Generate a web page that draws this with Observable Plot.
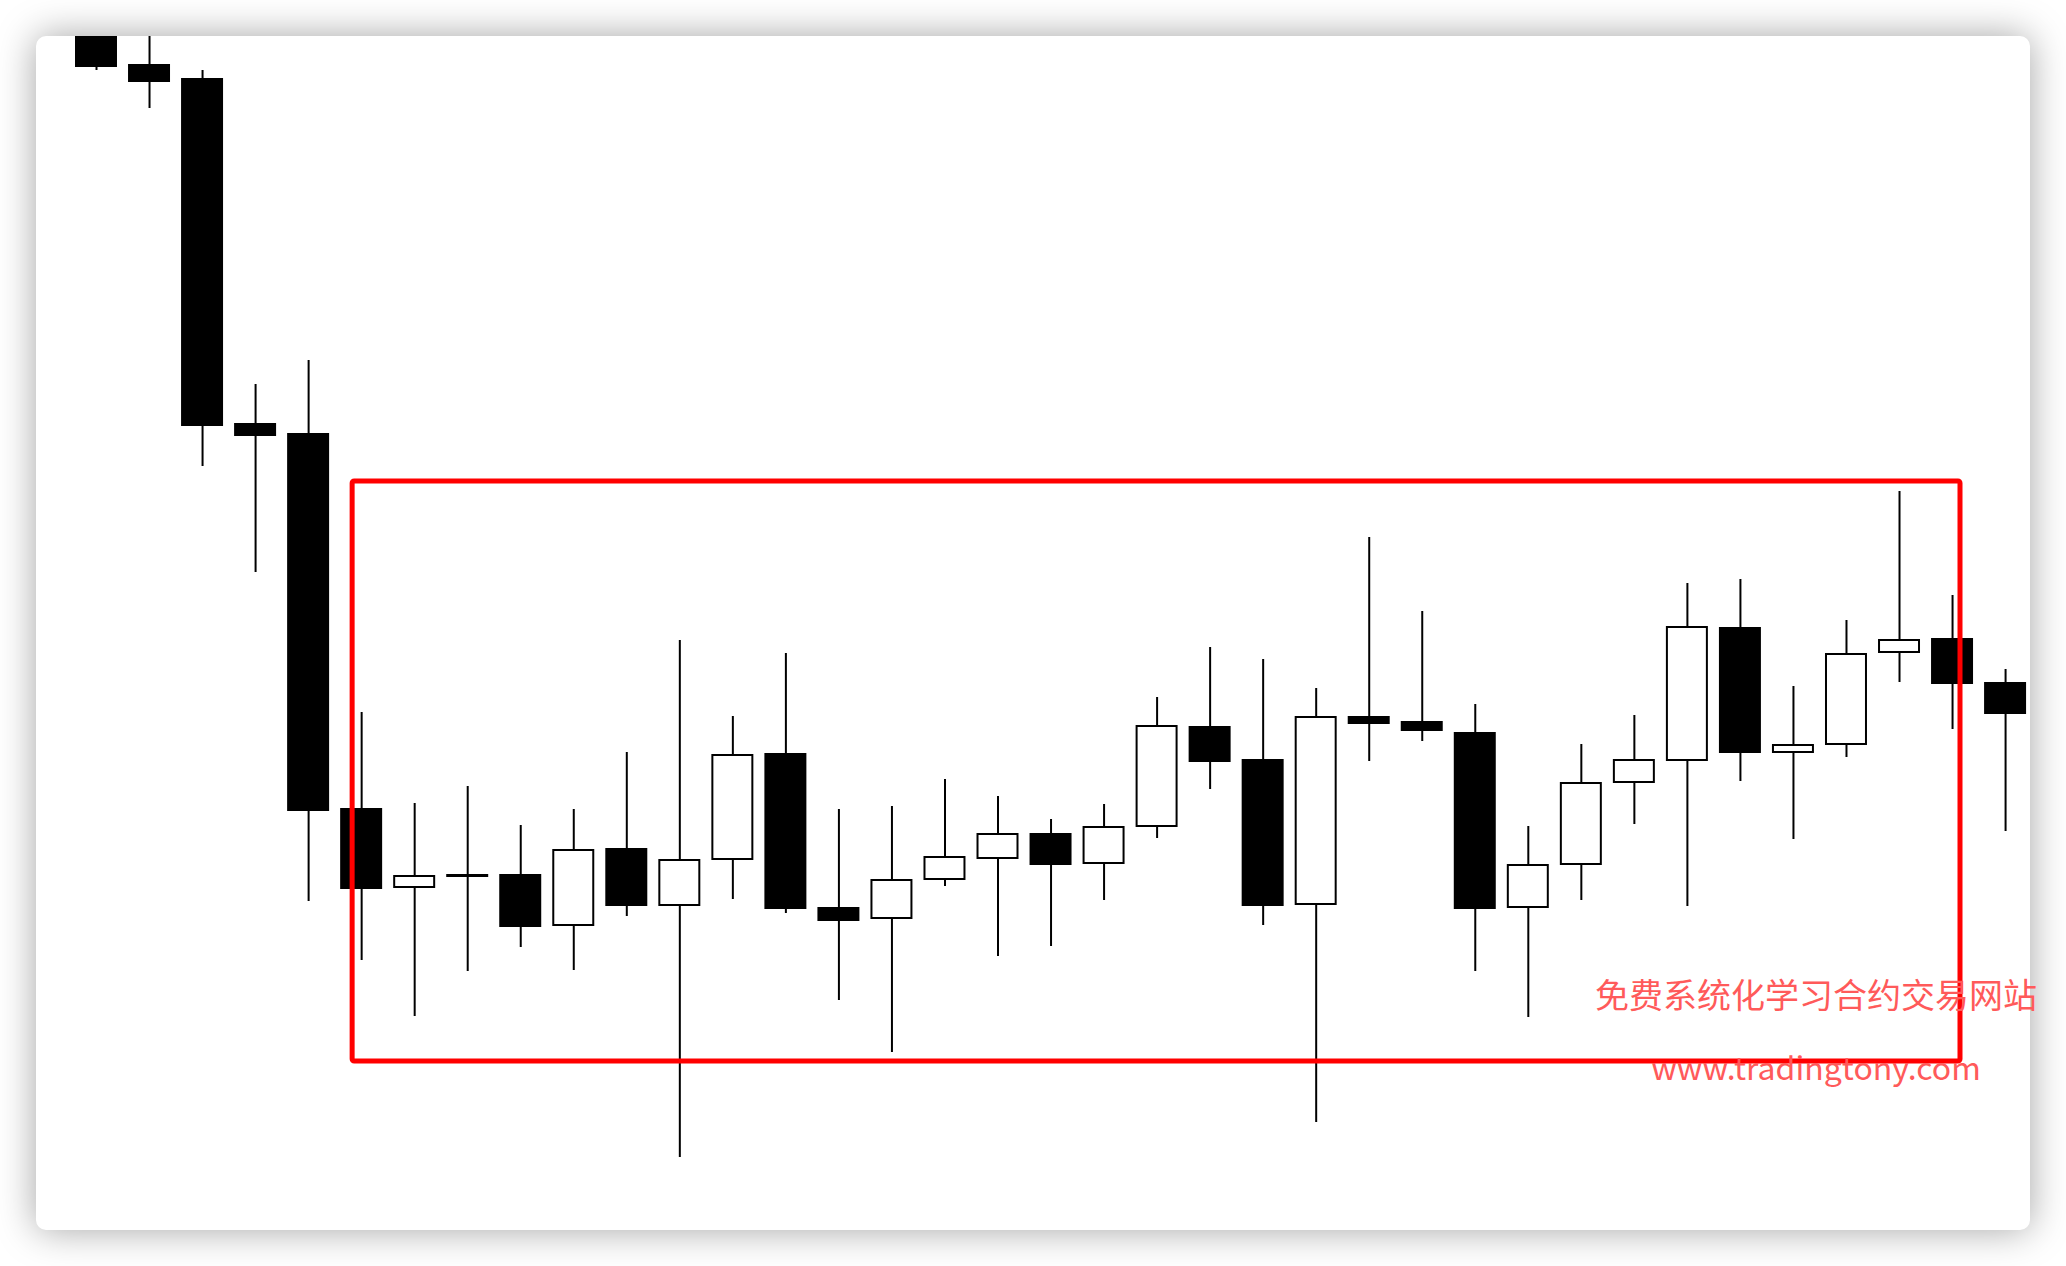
<!DOCTYPE html>
<html>
<head>
<meta charset="utf-8">
<script src="https://cdn.jsdelivr.net/npm/d3@7"></script>
<script src="https://cdn.jsdelivr.net/npm/@observablehq/plot@0.6"></script>
<style>
  html, body { margin: 0; padding: 0; background: #ffffff; }
  body { width: 2066px; height: 1266px; position: relative; overflow: hidden; }
  #card {
    position: absolute; left: 36px; top: 36px; width: 1994px; height: 1194px;
    background: #ffffff; border-radius: 10px;
    box-shadow: 0 0 38px rgba(0,0,0,0.36);
  }
  #chart { position: absolute; left: 0; top: 0; }
  .wm {
    position: absolute; left: 1816px; transform: translateX(-50%);
    white-space: nowrap; font-family: "Noto Sans CJK SC", "Noto Sans", sans-serif;
    font-size: 34px; line-height: 34px; color: #ff5a5a;
  }
</style>
</head>
<body>
<div id="card"></div>
<div id="chart"></div>
<div class="wm" style="top:977px">免费系统化学习合约交易网站</div>
<div class="wm" style="top:1050px; font-size:32px; line-height:32px;">www.tradingtony.com</div>
<script>
// Candle data (price units), in order of bars
const opens  = [1246, 1201, 1187, 842, 832, 457, 379, 391, 391, 341, 417, 361, 407, 512, 358, 348, 387, 408, 432, 403, 440, 539, 506, 362, 549, 544, 533, 359, 402, 484, 506, 638, 514, 522, 614, 627, 583];
const highs  = [1254, 1241, 1196, 882, 906, 554, 463, 480, 441, 457, 514, 626, 550, 613, 457, 460, 487, 470, 447, 462, 569, 619, 607, 578, 729, 655, 562, 440, 522, 551, 683, 687, 580, 646, 775, 671, 597];
const lows   = [1196, 1158, 800, 694, 365, 306, 250, 295, 319, 296, 350, 109, 367, 353, 266, 214, 380, 310, 320, 366, 428, 477, 341, 144, 505, 525, 295, 249, 366, 442, 360, 485, 427, 509, 584, 537, 435];
const closes = [1200, 1185, 841, 831, 456, 378, 390, 390, 340, 416, 361, 406, 511, 358, 346, 386, 409, 432, 402, 439, 540, 505, 361, 549, 543, 536, 358, 401, 483, 506, 639, 514, 521, 612, 626, 583, 553];

// Highlighted consolidation zone: bar-index span and price span
const zoneX = [4.83, 35.15];
const zoneY = [205, 785];

const candles = opens.map((o, i) => ({i, o, h: highs[i], l: lows[i], c: closes[i]}));
const zone = [{x1: zoneX[0], x2: zoneX[1], y1: zoneY[0], y2: zoneY[1]}];
const half = 0.377;

const plot = Plot.plot({
  width: 2066,
  height: 1266,
  marginLeft: 36, marginRight: 36, marginTop: 36, marginBottom: 36,
  style: {background: "transparent", overflow: "visible"},
  x: {type: "linear", domain: [-1.1314, 36.470], axis: null},
  y: {domain: [36, 1230], axis: null},
  marks: [
    Plot.ruleX(candles, {x: "i", y1: "l", y2: "h", stroke: "black", strokeWidth: 2, clip: true}),
    Plot.rect(candles, {
      x1: d => d.i - half, x2: d => d.i + half, y1: "o", y2: "c",
      fill: d => d.c < d.o ? "black" : "white",
      stroke: "black", strokeWidth: 2, clip: true
    }),
    Plot.rect(zone, {x1: "x1", x2: "x2", y1: "y1", y2: "y2", fill: "none", stroke: "#ff0000", strokeWidth: 5, rx: 2})
  ]
});
document.getElementById("chart").appendChild(plot);
</script>
</body>
</html>
